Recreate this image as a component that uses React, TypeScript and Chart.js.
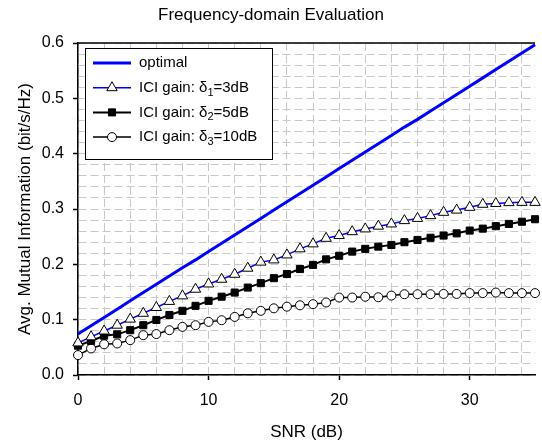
import React, { useEffect, useRef } from 'react';
import { Chart, registerables } from 'chart.js';
import { drawPoint } from 'chart.js/helpers';
Chart.register(...registerables);

const snr = [0,1,2,3,4,5,6,7,8,9,10,11,12,13,14,15,16,17,18,19,20,21,22,23,24,25,26,27,28,29,30,31,32,33,34,35];
const optimal = [0.074,0.089,0.104,0.119,0.134,0.149,0.164,0.179,0.194,0.208,0.223,0.238,0.253,0.268,0.283,0.298,0.313,0.328,0.343,0.358,0.373,0.388,0.403,0.418,0.433,0.448,0.462,0.477,0.492,0.507,0.522,0.537,0.552,0.567,0.582,0.597];
const ici3 = [0.058,0.069,0.0795,0.090,0.101,0.1115,0.122,0.133,0.143,0.155,0.1645,0.173,0.182,0.193,0.204,0.208,0.217,0.228,0.237,0.247,0.252,0.259,0.264,0.269,0.273,0.279,0.283,0.288,0.294,0.298,0.303,0.3085,0.310,0.3115,0.312,0.312];
const ici5 = [0.053,0.0615,0.071,0.0735,0.081,0.090,0.0995,0.1085,0.116,0.125,0.134,0.1415,0.149,0.158,0.166,0.175,0.1825,0.1915,0.199,0.209,0.2155,0.223,0.228,0.232,0.235,0.240,0.244,0.248,0.252,0.256,0.261,0.2645,0.269,0.273,0.277,0.2815];
const ici10 = [0.036,0.048,0.0555,0.057,0.063,0.072,0.074,0.081,0.087,0.090,0.096,0.099,0.105,0.1115,0.116,0.1205,0.1235,0.126,0.128,0.131,0.140,0.140,0.1415,0.1405,0.1435,0.146,0.146,0.146,0.1465,0.1465,0.148,0.148,0.149,0.148,0.148,0.148];

const xMajorTicks = [0, 10, 20, 30];
const yMajorTicks = [0.0, 0.1, 0.2, 0.3, 0.4, 0.5, 0.6];
const xGridStep = 2;
const yGridStep = 0.02;
const xMin = 0, xMax = 35, yMin = 0, yMax = 0.6;

const chartTitle = 'Frequency-domain Evaluation';
const xTitle = 'SNR (dB)';
const yTitle = 'Avg. Mutual Information (bit/s/Hz)';
const legendLabels = [
  { pre: 'optimal', sub: '', post: '' },
  { pre: 'ICI gain: \u03b4', sub: '1', post: '=3dB' },
  { pre: 'ICI gain: \u03b4', sub: '2', post: '=5dB' },
  { pre: 'ICI gain: \u03b4', sub: '3', post: '=10dB' },
];

const FONT = '"Liberation Sans", Arial, Helvetica, sans-serif';

const isMajor = (v: number, majors: number[]) => majors.some((m) => Math.abs(m - v) < 1e-9);

const buildTicks = (min: number, max: number, step: number) => {
  const out: number[] = [];
  const n = Math.round((max - min) / step);
  for (let i = 0; i <= n; i++) out.push(+(min + i * step).toFixed(6));
  return out;
};

const legendPlugin = {
  id: 'boxLegend',
  afterDraw(chart: any) {
    const { ctx, chartArea } = chart;
    ctx.save();
    // top frame line
    ctx.strokeStyle = '#000';
    ctx.lineWidth = 1.5;
    ctx.beginPath();
    ctx.moveTo(chartArea.left, chartArea.top);
    ctx.lineTo(chartArea.right, chartArea.top);
    ctx.stroke();

    const x0 = 85, y0 = 48, w = 187, h = 111;
    ctx.fillStyle = '#fff';
    ctx.fillRect(x0, y0, w, h);
    ctx.strokeStyle = '#000';
    ctx.lineWidth = 1;
    ctx.strokeRect(x0 + 0.5, y0 + 0.5, w, h);

    chart.data.datasets.forEach((ds: any, i: number) => {
      const y = 63 + i * 24.7;
      ctx.strokeStyle = ds.borderColor;
      ctx.lineWidth = ds.borderWidth;
      ctx.beginPath();
      ctx.moveTo(93, y);
      ctx.lineTo(131, y);
      ctx.stroke();
      if (ds.pointRadius > 0) {
        ctx.fillStyle = ds.pointBackgroundColor;
        ctx.strokeStyle = ds.pointBorderColor;
        ctx.lineWidth = ds.pointBorderWidth;
        drawPoint(ctx, { pointStyle: ds.pointStyle, radius: ds.pointRadius, rotation: 0, borderWidth: ds.pointBorderWidth }, 112, y);
      }
      const lab = legendLabels[i];
      ctx.fillStyle = '#000';
      ctx.textBaseline = 'middle';
      ctx.textAlign = 'left';
      ctx.font = `15px ${FONT}`;
      let tx = 139;
      ctx.fillText(lab.pre, tx, y);
      tx += ctx.measureText(lab.pre).width;
      if (lab.sub) {
        ctx.font = `11px ${FONT}`;
        ctx.fillText(lab.sub, tx, y + 5);
        tx += ctx.measureText(lab.sub).width;
        ctx.font = `15px ${FONT}`;
      }
      if (lab.post) ctx.fillText(lab.post, tx, y);
    });
    ctx.restore();
  },
};

export default function App() {
  const ref = useRef<HTMLCanvasElement>(null);
  useEffect(() => {
    if (!ref.current) return;
    Chart.defaults.font.family = FONT;
    Chart.defaults.color = '#000';
    const xTicks = buildTicks(xMin, xMax - 1, xGridStep);
    const yTicks = buildTicks(yMin, yMax, yGridStep);
    const mk = (arr: number[]) => snr.map((x, i) => ({ x, y: arr[i] }));
    const chart = new Chart(ref.current, {
      type: 'line',
      data: {
        datasets: [
          { label: 'optimal', data: mk(optimal), borderColor: '#0000ff', borderWidth: 3, pointRadius: 0, clip: false } as any,
          { label: 'ICI gain: d1=3dB', data: mk(ici3), borderColor: '#0000ff', borderWidth: 1.5, pointStyle: 'triangle', pointRadius: 6, pointBackgroundColor: '#fff', pointBorderColor: '#000', pointBorderWidth: 1, clip: false } as any,
          { label: 'ICI gain: d2=5dB', data: mk(ici5), borderColor: '#000', borderWidth: 2, pointStyle: 'rect', pointRadius: 5, pointBackgroundColor: '#000', pointBorderColor: '#000', pointBorderWidth: 1, clip: false } as any,
          { label: 'ICI gain: d3=10dB', data: mk(ici10), borderColor: '#000', borderWidth: 1.5, pointStyle: 'circle', pointRadius: 4.5, pointBackgroundColor: '#fff', pointBorderColor: '#000', pointBorderWidth: 1, clip: false } as any,
        ],
      },
      options: {
        animation: false,
        responsive: true,
        maintainAspectRatio: false,
        layout: { padding: 0 },
        plugins: {
          legend: { display: false },
          tooltip: { enabled: false },
          title: {
            display: true,
            text: chartTitle,
            font: { size: 17, weight: 'normal', family: FONT },
            color: '#000',
            padding: { top: 5, bottom: 17.6 },
          },
        },
        scales: {
          x: {
            type: 'linear',
            min: xMin,
            max: xMax,
            afterBuildTicks: (s: any) => { s.ticks = xTicks.map((v) => ({ value: v })); },
            afterFit: (s: any) => { s.height = 72; },
            ticks: {
              autoSkip: false,
              maxRotation: 0,
              padding: 11,
              font: { size: 16 },
              color: '#000',
              callback: (v: any) => (isMajor(Number(v), xMajorTicks) ? String(v) : ''),
            },
            grid: {
              color: '#c8c8c8',
              lineWidth: 1,
              tickLength: 5,
              tickWidth: 1.5,
              tickColor: (c: any) => (c.tick && isMajor(c.tick.value, xMajorTicks) ? '#000' : 'rgba(0,0,0,0)'),
            },
            border: { color: '#000', width: 1.5, dash: [8, 4] },
            title: { display: true, text: xTitle, font: { size: 17 }, color: '#000', padding: { top: 0, bottom: 4 } },
          },
          y: {
            type: 'linear',
            min: yMin,
            max: yMax,
            afterBuildTicks: (s: any) => { s.ticks = yTicks.map((v) => ({ value: v })); },
            afterFit: (s: any) => { s.width = 78; },
            ticks: {
              autoSkip: false,
              padding: 9,
              font: { size: 16 },
              color: '#000',
              callback: (v: any) => (isMajor(Number(v), yMajorTicks) ? Number(v).toFixed(1) : ''),
            },
            grid: {
              color: '#c8c8c8',
              lineWidth: 1,
              tickLength: 5,
              tickWidth: 1.5,
              tickColor: (c: any) => (c.tick && isMajor(c.tick.value, yMajorTicks) ? '#000' : 'rgba(0,0,0,0)'),
            },
            border: { color: '#000', width: 1.5, dash: [8, 4] },
            title: { display: true, text: yTitle, font: { size: 17 }, color: '#000', padding: { top: 15, bottom: 0 } },
          },
        },
      } as any,
      plugins: [legendPlugin],
    });
    return () => chart.destroy();
  }, []);
  return (
    <div style={{ position: 'absolute', left: 0, top: 0, width: 542, height: 447 }}>
      <canvas ref={ref} />
    </div>
  );
}
